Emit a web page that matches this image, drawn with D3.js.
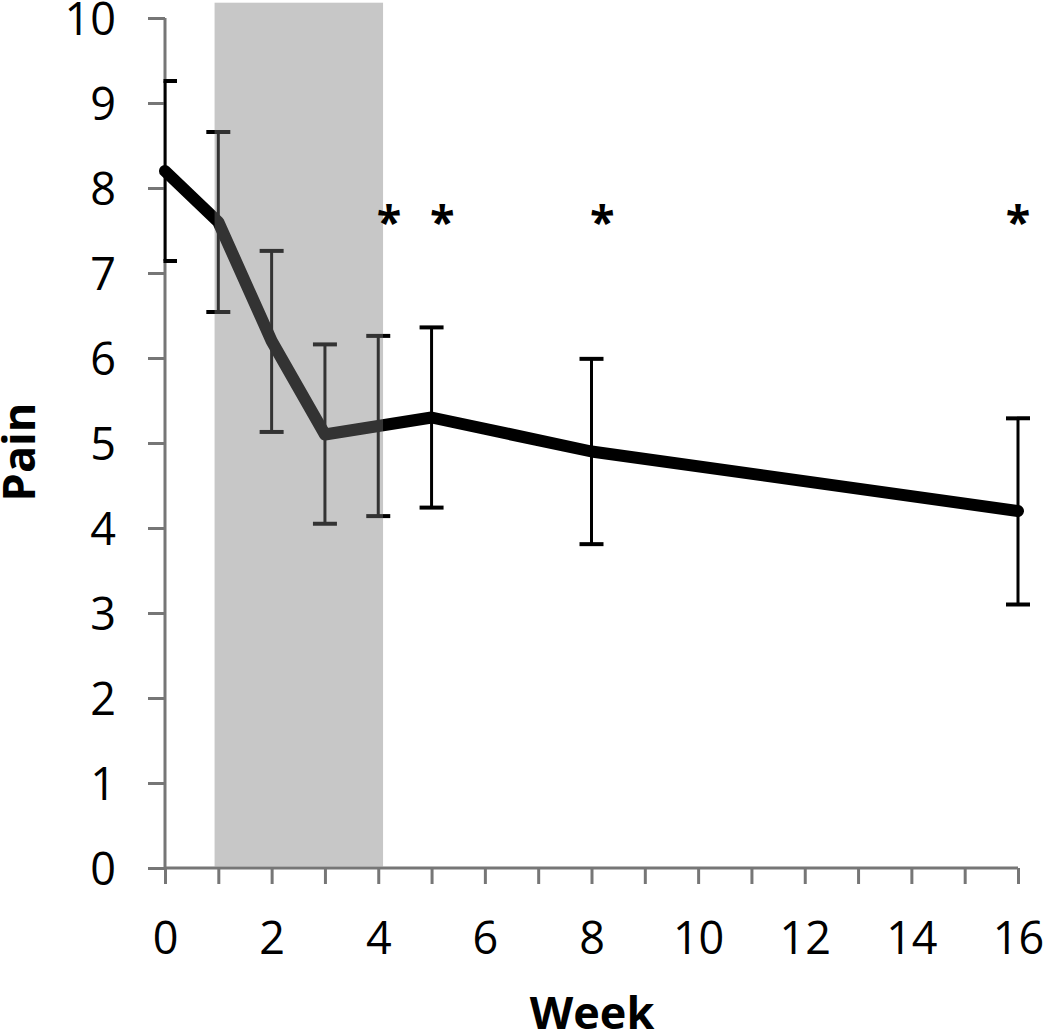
<!DOCTYPE html>
<html><head><meta charset="utf-8">
<script src="https://cdn.jsdelivr.net/npm/d3@7"></script>
<style>body{margin:0;background:#fff}svg{display:block}</style>
</head><body>
<script>
const weeks = [0, 1, 2, 3, 4, 5, 8, 16];
const pain = [8.2, 7.6, 6.2, 5.1, 5.2, 5.3, 4.9, 4.2];
const painLow = [7.14, 6.54, 5.13, 4.05, 4.14, 4.24, 3.81, 3.1];
const painHigh = [9.26, 8.66, 7.26, 6.16, 6.26, 6.36, 5.99, 5.29];
const starWeeks = [4.2, 5.2, 8.2, 16];
const starLevel = 7.71;
const shadeRange = [0.93, 4.09];
const shadeTop = 10.18;
const xTickLabels = [0, 2, 4, 6, 8, 10, 12, 14, 16];
const yTickLabels = [0, 1, 2, 3, 4, 5, 6, 7, 8, 9, 10];

const W = 1050, H = 1031;
const m = {left: 165, right: 32, top: 18, bottom: 163};
const svg = d3.select("body").append("svg").attr("width", W).attr("height", H);
const x = d3.scaleLinear().domain([0, 16]).range([m.left, W - m.right]);
const y = d3.scaleLinear().domain([0, 10]).range([H - m.bottom, m.top]);

svg.append("defs").append("clipPath").attr("id", "plot")
  .append("rect").attr("x", m.left - 1.5).attr("y", 0).attr("width", W - m.right - m.left + 20).attr("height", H);

const font = "'Open Sans', 'DejaVu Sans', sans-serif";
const axisColor = "#767676";

// axes
const xAxis = svg.append("g").attr("transform", `translate(0,${y(0)})`)
  .call(d3.axisBottom(x).tickValues(d3.range(0, 17)).tickSize(16).tickFormat(d => xTickLabels.includes(d) ? d : ""));
const yAxis = svg.append("g").attr("transform", `translate(${x(0)},0)`)
  .call(d3.axisLeft(y).tickValues(yTickLabels).tickSize(17).tickFormat(d => d));
[xAxis, yAxis].forEach(g => {
  g.select(".domain").attr("stroke", axisColor).attr("stroke-width", 3);
  g.selectAll(".tick line").attr("stroke", axisColor).attr("stroke-width", 3);
  g.selectAll(".tick text").attr("font-family", font).attr("font-size", 45).attr("fill", "#000");
});
xAxis.selectAll(".tick text").attr("dy", "0.71em").attr("y", 54);
yAxis.selectAll(".tick text").attr("x", -49).attr("dy", "0.36em");
xAxis.select(".domain").attr("d", `M${x(0)},0H${x(16)}`);
yAxis.select(".domain").attr("d", `M0,${y(0)}V${y(10)}`);

// error bars
const eb = svg.append("g").attr("clip-path", "url(#plot)");
weeks.forEach((w, i) => {
  eb.append("line").attr("x1", x(w)).attr("x2", x(w)).attr("y1", y(painLow[i])).attr("y2", y(painHigh[i]))
    .attr("stroke", "#000").attr("stroke-width", 3);
  [painLow[i], painHigh[i]].forEach(v => {
    eb.append("line").attr("x1", x(w) - 12).attr("x2", x(w) + 12).attr("y1", y(v)).attr("y2", y(v))
      .attr("stroke", "#000").attr("stroke-width", 4);
  });
});

// main line
svg.append("path").datum(weeks.map((w, i) => [w, pain[i]]))
  .attr("d", d3.line().x(d => x(d[0])).y(d => y(d[1])))
  .attr("fill", "none").attr("stroke", "#000").attr("stroke-width", 12)
  .attr("stroke-linejoin", "round").attr("stroke-linecap", "round");

// shaded period (on top, translucent)
svg.append("rect").attr("x", x(shadeRange[0])).attr("width", x(shadeRange[1]) - x(shadeRange[0]))
  .attr("y", y(shadeTop)).attr("height", y(0) - y(shadeTop) - 1.5)
  .attr("fill", "#7a7a7a").attr("fill-opacity", 0.42);

// asterisks
svg.selectAll("text.star").data(starWeeks).join("text").attr("class", "star")
  .attr("x", d => x(d)).attr("y", y(starLevel)).attr("dy", "0.57em")
  .attr("text-anchor", "middle").attr("font-family", font).attr("font-weight", "bold").attr("font-size", 45)
  .text("*");

// axis titles
svg.append("text").attr("x", 592).attr("y", 1029)
  .attr("text-anchor", "middle").attr("font-family", font).attr("font-weight", "bold").attr("font-size", 45).text("Week");
svg.append("text").attr("transform", `translate(35,452) rotate(-90)`)
  .attr("text-anchor", "middle").attr("font-family", font).attr("font-weight", "bold").attr("font-size", 45).text("Pain");
</script>
</body></html>
